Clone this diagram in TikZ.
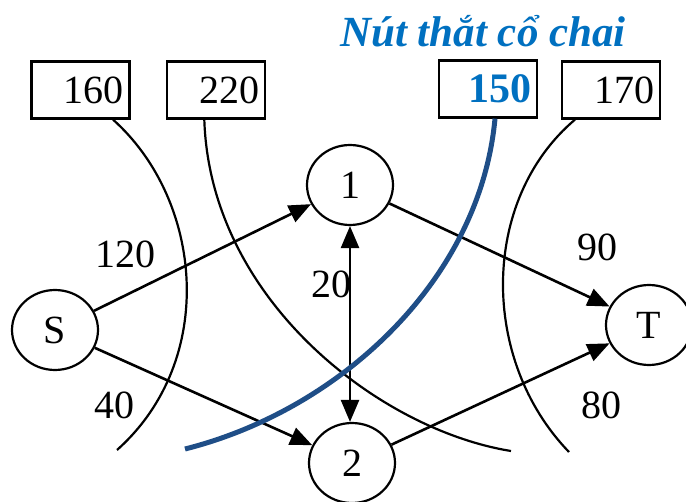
\documentclass[tikz,border=0pt]{standalone}
\usepackage{fontspec}
\setmainfont{Liberation Serif}
\usepackage{tikz}
\usetikzlibrary{calc,arrows.meta,shapes.geometric}
\definecolor{titlec}{HTML}{0070C0}
\definecolor{cutc}{HTML}{1F4E87}
\tikzset{
  ar/.style={-{Triangle[length=11pt,width=9pt]},line width=1.3pt},
  arr/.style={{Triangle[length=11pt,width=9pt]}-{Triangle[length=11pt,width=9pt]},line width=1.3pt},
  box/.style={draw,line width=1.1pt,minimum height=28.5pt,text width=43pt,align=right,inner xsep=3pt,font=\fontsize{20}{24}\selectfont},
  nd/.style={ellipse,draw,line width=1.1pt,minimum width=43pt,minimum height=40pt,inner sep=0pt,font=\fontsize{20}{24}\selectfont},
  cut/.style={line width=1.1pt},
  lbl/.style={font=\fontsize{20}{24}\selectfont}
}
\begin{document}
\begin{tikzpicture}[x=0.5pt,y=-0.5pt]
\useasboundingbox (0,0) rectangle (686,502);
% nodes
\node[nd] (s) at (55,330) {S};
\node[nd] (n1) at (350,185) {1};
\node[nd] (n2) at (352,463) {2};
\node[nd] (t) at (649,325) {T};
% capacity boxes
\foreach \n/\x/\v in {b160/80.5/160,b220/216.3/220,b170/611/170}{\node[box] (\n) at (\x,90) {\v};}
\node[box,text=titlec,font=\fontsize{21}{24}\selectfont\bfseries] (b150) at (488,89) {150};
\node[font=\fontsize{21.5}{24}\selectfont\bfseries\itshape,text=titlec,anchor=base] (title) at (483,46.7) {Nút thắt cổ chai};
% edges
\draw[ar] (s) -- (n1);
\draw[ar] (s) -- (n2);
\draw[ar] (n1) -- (t);
\draw[ar] (n2) -- (t);
\draw[arr] (n1.south) -- (n1.south |- n2.north);
\node[lbl] (l120) at (125,254) {120};
\node[lbl] (l40) at (114,405) {40};
\node[lbl] (l20) at (331,284) {20};
\node[lbl] (l90) at (597,247) {90};
\node[lbl] (l80) at (601,405) {80};
% cuts
\coordinate (e160) at (117,450);
\coordinate (e220) at (511,451);
\coordinate (e150) at (185,449);
\coordinate (e170) at (569,452);
\draw[cut] ($(b160.south)+(32.5,0)$) .. controls (203,200) and (218,360) .. (e160);
\draw[cut] ($(b220.south)+(-12,0)$) .. controls (210,300) and (380,430) .. (e220);
\draw[cut] ($(b170.south)+(-36,0)$) .. controls (480,200) and (480,360) .. (e170);
\draw[line width=2.5pt,cutc] ($(b150.south)+(7,0)$) .. controls (480,280) and (340,410) .. (e150);
\end{tikzpicture}
\end{document}
